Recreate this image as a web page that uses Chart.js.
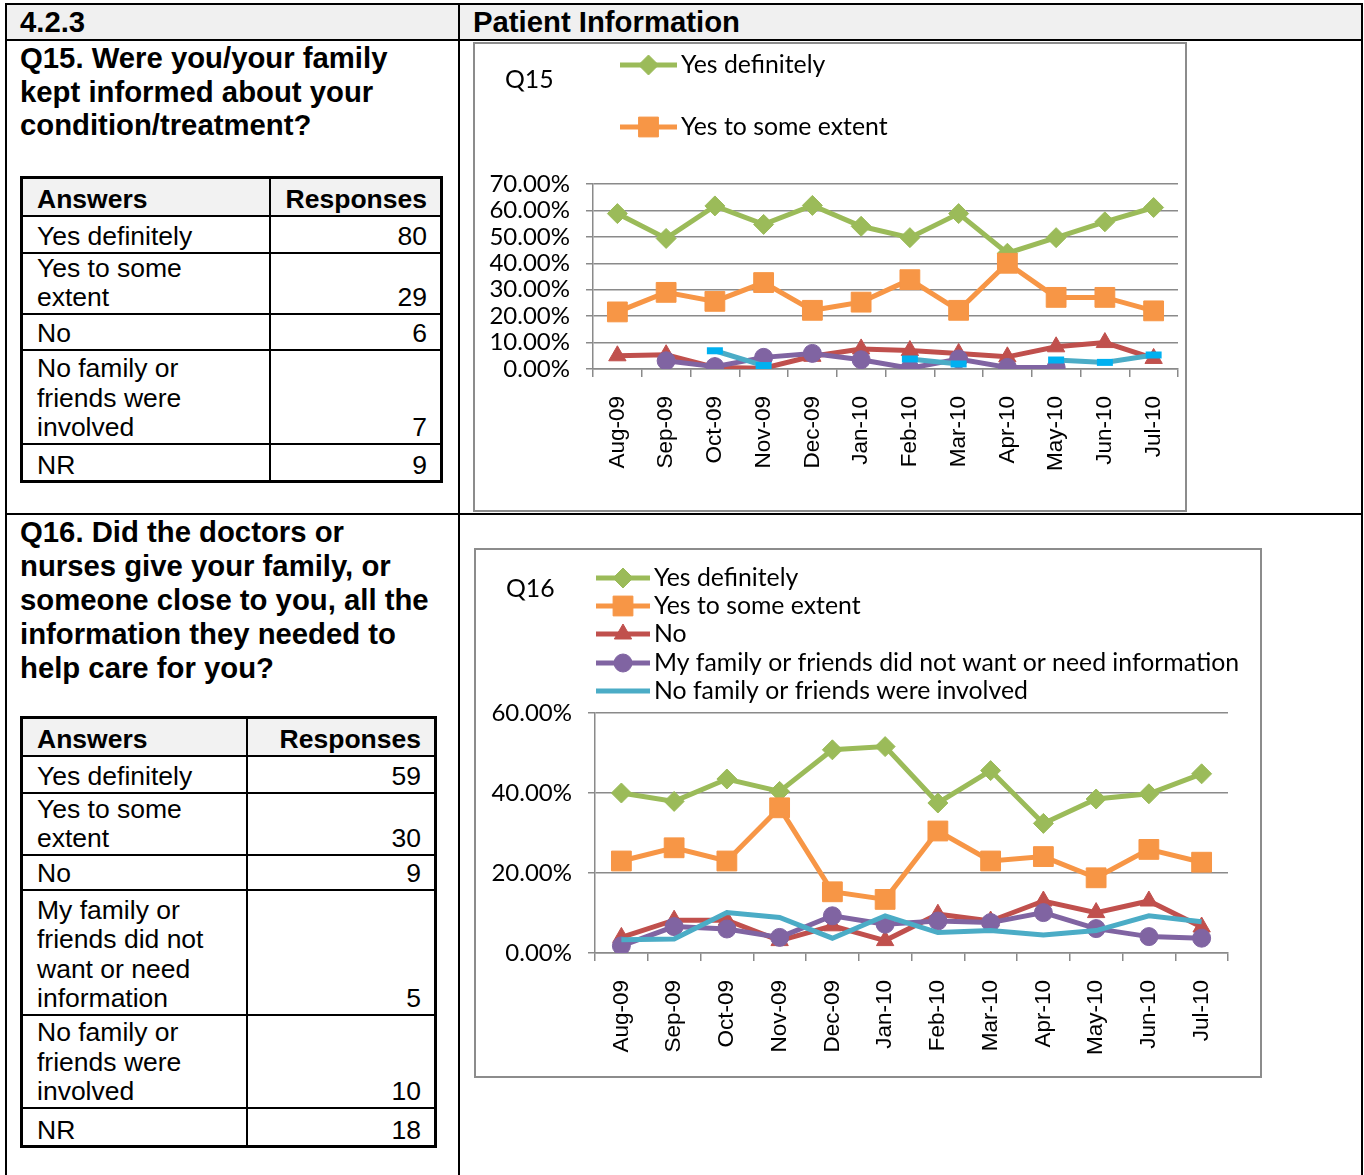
<!DOCTYPE html>
<html>
<head>
<meta charset="utf-8">
<script src="https://cdn.jsdelivr.net/npm/chart.js"></script>
<style>
  body { margin: 0; background: #fff; }
  #page { position: relative; width: 1364px; height: 1175px; overflow: hidden; font-family: "Liberation Sans", Arial, sans-serif; color: #000; }
  .ln { position: absolute; background: #000; }
  .hdrbg { position: absolute; left: 7px; top: 5px; width: 1354px; height: 34px; background: #f0f0f0; }
  .big { position: absolute; font-weight: bold; font-size: 29.3px; line-height: 34px; white-space: nowrap; }
  .q { line-height: 33.6px; }
  table.ans { position: absolute; border-collapse: collapse; table-layout: fixed; border: 3px solid #000; font-size: 26.5px; line-height: 29.5px; }
  table.ans td { border: 2px solid #000; padding: 0 13px 0 14px; vertical-align: bottom; white-space: nowrap; }
  table.ans td.n { text-align: right; }
  table.ans tr.h td { background: #f2f2f2; font-weight: bold; }
  .box { position: absolute; border: 2px solid #8c8c8c; background: #fff; }
  .box canvas { display: block; }
</style>
</head>
<body>
<div id="page">
  <div class="hdrbg"></div>
  <div class="ln" style="left:5px;top:3px;width:1358px;height:2px"></div>
  <div class="ln" style="left:5px;top:3px;width:2px;height:1172px"></div>
  <div class="ln" style="left:1361px;top:3px;width:2px;height:1172px"></div>
  <div class="ln" style="left:458px;top:3px;width:2px;height:1172px"></div>
  <div class="ln" style="left:5px;top:39px;width:1358px;height:2px"></div>
  <div class="ln" style="left:5px;top:513px;width:1358px;height:2px"></div>

  <div class="big" style="left:20px;top:5px">4.2.3</div>
  <div class="big" style="left:473px;top:5px">Patient Information</div>

  <div class="big q" style="left:20px;top:41px">Q15. Were you/your family<br>kept informed about your<br>condition/treatment?</div>
  <table class="ans" style="left:20px;top:176px;width:423px">
    <colgroup><col style="width:248px"><col></colgroup>
    <tr class="h" style="height:38px"><td>Answers</td><td class="n">Responses</td></tr>
    <tr style="height:37px"><td>Yes definitely</td><td class="n">80</td></tr>
    <tr style="height:61px"><td>Yes to some<br>extent</td><td class="n">29</td></tr>
    <tr style="height:36px"><td>No</td><td class="n">6</td></tr>
    <tr style="height:94px"><td>No family or<br>friends were<br>involved</td><td class="n">7</td></tr>
    <tr style="height:38px"><td>NR</td><td class="n">9</td></tr>
  </table>

  <div class="big q" style="left:20px;top:515px;line-height:34px">Q16. Did the doctors or<br>nurses give your family, or<br>someone close to you, all the<br>information they needed to<br>help care for you?</div>
  <table class="ans" style="left:20px;top:716px;width:417px">
    <colgroup><col style="width:225px"><col></colgroup>
    <tr class="h" style="height:38px"><td>Answers</td><td class="n">Responses</td></tr>
    <tr style="height:37px"><td>Yes definitely</td><td class="n">59</td></tr>
    <tr style="height:62px"><td>Yes to some<br>extent</td><td class="n">30</td></tr>
    <tr style="height:35px"><td>No</td><td class="n">9</td></tr>
    <tr style="height:125px"><td>My family or<br>friends did not<br>want or need<br>information</td><td class="n">5</td></tr>
    <tr style="height:93px"><td>No family or<br>friends were<br>involved</td><td class="n">10</td></tr>
    <tr style="height:39px"><td>NR</td><td class="n">18</td></tr>
  </table>

  <div class="box" style="left:473px;top:42px;width:710px;height:466px"><canvas id="q15" width="720" height="466"></canvas></div>
  <div class="box" style="left:474px;top:548px;width:784px;height:526px"><canvas id="q16" width="784" height="526"></canvas></div>
</div>

<script>
// months on the x axis
const months = ['Aug-09', 'Sep-09', 'Oct-09', 'Nov-09', 'Dec-09', 'Jan-10', 'Feb-10', 'Mar-10', 'Apr-10', 'May-10', 'Jun-10', 'Jul-10'];

// series labels
const answerLabels = ['Yes definitely', 'Yes to some extent', 'No', 'My family or friends did not want or need information', 'No family or friends were involved'];

// Q15 values (%)
const q15YesDefinitely = [58.8, 49.4, 61.7, 54.7, 61.9, 54.0, 49.7, 58.8, 43.8, 49.7, 55.7, 61.1];
const q15YesSomeExtent = [21.6, 29.0, 25.6, 32.7, 22.2, 25.3, 33.8, 22.2, 40.0, 27.1, 27.1, 22.0];
const q15No = [5.0, 5.4, 0.6, 0.3, 4.8, 7.6, 7.0, 5.9, 4.6, 8.4, 10.0, 4.0];
const q15NotWanted = [null, 3.1, 0.9, 4.4, 5.9, 3.5, 0.3, 3.8, 0.6, 0.6, null, null];
const q15NoFamily = [null, null, 6.9, 1.3, null, null, 3.8, 1.9, null, 3.4, 2.5, 5.3];

// Q16 values (%)
const q16YesDefinitely = [40.0, 37.9, 43.5, 40.4, 50.8, 51.6, 37.5, 45.6, 32.4, 38.5, 39.8, 44.8];
const q16YesSomeExtent = [23.0, 26.3, 23.0, 36.3, 15.3, 13.4, 30.5, 23.0, 24.1, 18.8, 25.9, 22.7];
const q16No = [3.9, 8.2, 8.2, 3.1, 6.8, 3.1, 9.7, 8.0, 13.0, 10.1, 13.0, 6.5];
const q16NotWanted = [1.8, 6.6, 6.0, 3.9, 9.3, 7.2, 8.0, 7.6, 10.1, 6.1, 4.1, 3.7];
const q16NoFamily = [3.3, 3.5, 10.1, 8.9, 3.7, 9.3, 5.1, 5.6, 4.5, 5.6, 9.3, 7.8];

const calibriLike = 'Lato, "Open Sans", sans-serif';

// draws a marker like the ones chart.js uses for points
function drawMarker(ctx, style, r, x, y, fill, stroke, bw) {
  ctx.save();
  ctx.fillStyle = fill;
  ctx.strokeStyle = stroke;
  ctx.lineWidth = bw;
  ctx.beginPath();
  if (style === 'rectRot') {
    ctx.moveTo(x - r, y); ctx.lineTo(x, y - r); ctx.lineTo(x + r, y); ctx.lineTo(x, y + r); ctx.closePath();
  } else if (style === 'rect') {
    const s = r * Math.SQRT1_2;
    ctx.rect(x - s, y - s, 2 * s, 2 * s);
  } else if (style === 'triangle') {
    const h = r * 1.5, e = r * Math.sqrt(3);
    ctx.moveTo(x - e / 2, y + h / 3); ctx.lineTo(x, y - 2 * h / 3); ctx.lineTo(x + e / 2, y + h / 3); ctx.closePath();
  } else if (style === 'circle') {
    ctx.arc(x, y, r, 0, Math.PI * 2);
  }
  ctx.fill();
  ctx.stroke();
  ctx.restore();
}

// excel style legend: one row per series, line + marker sample
const sideLegend = {
  id: 'sideLegend',
  afterDraw(chart, args, o) {
    const ctx = chart.ctx;
    ctx.save();
    ctx.font = o.font;
    ctx.fillStyle = '#000';
    ctx.textBaseline = 'middle';
    ctx.fillText(o.title, o.titleX, o.titleY);
    o.rows.forEach((y, i) => {
      const ds = chart.data.datasets[i];
      ctx.strokeStyle = ds.borderColor;
      ctx.lineWidth = ds.borderWidth;
      ctx.beginPath();
      ctx.moveTo(o.lineX1, y);
      ctx.lineTo(o.lineX2, y);
      ctx.stroke();
      if (ds.pointRadius > 0) {
        drawMarker(ctx, ds.pointStyle, ds.pointRadius, (o.lineX1 + o.lineX2) / 2, y, ds.pointBackgroundColor, ds.pointBorderColor, 1);
      }
      ctx.fillStyle = '#000';
      ctx.fillText(ds.label, o.textX, y);
    });
    ctx.restore();
  }
};

function series(label, data, color, style, radius, order) {
  return {
    label: label,
    data: data,
    borderColor: color,
    backgroundColor: color,
    borderWidth: 5,
    pointStyle: style,
    pointRadius: radius,
    pointBackgroundColor: color,
    pointBorderColor: color,
    pointBorderWidth: 1,
    tension: 0,
    spanGaps: false,
    order: order
  };
}

function makeChart(id, datasets, yMax, yStep, pad, yWidth, xHeight, legendOpts) {
  return new Chart(document.getElementById(id), {
    type: 'line',
    data: { labels: months, datasets: datasets },
    plugins: [sideLegend],
    options: {
      responsive: false,
      animation: false,
      layout: { padding: pad },
      plugins: {
        legend: { display: false },
        tooltip: { enabled: false },
        sideLegend: legendOpts
      },
      scales: {
        x: {
          offset: true,
          grid: { offset: true, drawOnChartArea: false, tickLength: 8, color: '#8a8a8a', lineWidth: 1.5 },
          border: { color: '#8a8a8a', width: 1.5 },
          ticks: { autoSkip: false, minRotation: 90, maxRotation: 90, padding: 19, color: '#000',
                   font: { family: '"Liberation Sans", Arial, sans-serif', size: 22.5 } },
          afterFit: s => { s.height = xHeight; s.paddingLeft = 0; s.paddingRight = 0; }
        },
        y: {
          min: 0,
          max: yMax,
          grid: { color: '#8a8a8a', lineWidth: 1.5, tickLength: 7 },
          border: { color: '#8a8a8a', width: 1.5 },
          ticks: { stepSize: yStep, autoSkip: false, padding: 16, color: '#000',
                   font: { family: calibriLike, size: 24 },
                   callback: v => v.toFixed(2) + '%' },
          afterFit: s => { s.width = yWidth; s.paddingTop = 0; s.paddingBottom = 0; }
        }
      }
    }
  });
}

const green = '#9bbb59', orange = '#f79646', red = '#c0504d', purple = '#8064a2', cyan = '#4bacc6';

const q15Sets = [
  series(answerLabels[0], q15YesDefinitely, green, 'rectRot', 10, 5),
  series(answerLabels[1], q15YesSomeExtent, orange, 'rect', 14, 4),
  series(answerLabels[2], q15No, red, 'triangle', 10, 3),
  series(answerLabels[3], q15NotWanted, purple, 'circle', 9, 2),
  Object.assign(series(answerLabels[4], q15NoFamily, cyan, 'line', 8, 1),
    { pointBorderColor: '#00b0f0', pointBorderWidth: 7 })
];

const q16Sets = [
  series(answerLabels[0], q16YesDefinitely, green, 'rectRot', 10, 5),
  series(answerLabels[1], q16YesSomeExtent, orange, 'rect', 14, 4),
  series(answerLabels[2], q16No, red, 'triangle', 10, 3),
  series(answerLabels[3], q16NotWanted, purple, 'circle', 9, 2),
  series(answerLabels[4], q16NoFamily, cyan, 'circle', 0, 1)
];

makeChart('q15', q15Sets, 70, 10, { top: 140, right: 17, left: 0, bottom: 0 }, 118, 141, {
  title: 'Q15', titleX: 30, titleY: 36, font: '24.8px ' + calibriLike,
  lineX1: 145, lineX2: 202, textX: 206, rows: [21, 83]
});

makeChart('q16', q16Sets, 60, 20, { top: 163, right: 32, left: 0, bottom: 0 }, 119, 123, {
  title: 'Q16', titleX: 30, titleY: 39, font: '24.8px ' + calibriLike,
  lineX1: 120, lineX2: 174, textX: 178, rows: [28, 56, 84, 113, 141]
});
</script>
</body>
</html>
